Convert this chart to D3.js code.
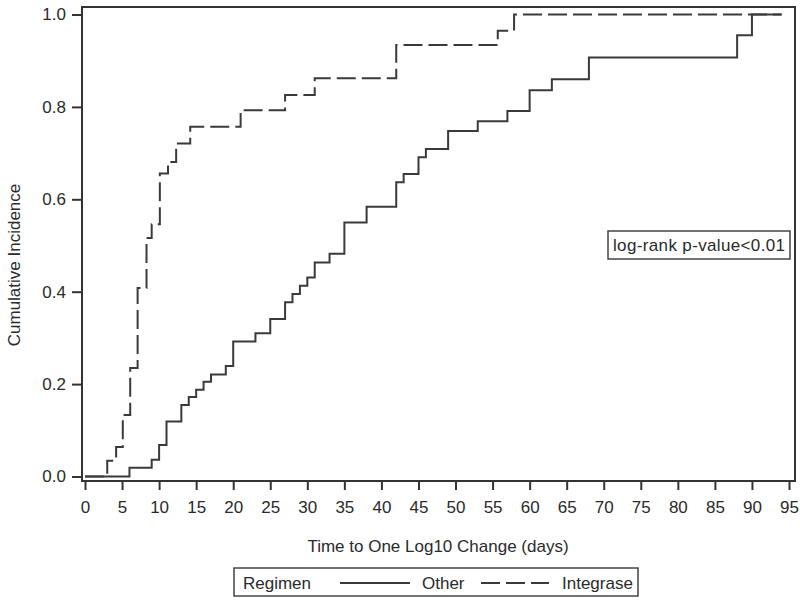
<!DOCTYPE html>
<html>
<head>
<meta charset="utf-8">
<script src="https://cdn.jsdelivr.net/npm/d3@7"></script>
<style>
  body { margin: 0; background: #fff; }
  svg text { font-family: "Liberation Sans", Arial, sans-serif; fill: #2a2a2a; }
</style>
</head>
<body>
<div id="chart"></div>
<script>
// step times (days) and cumulative incidence
var otherDays = [0, 6, 9, 10, 11, 13, 14, 15, 16, 17, 19, 20, 23, 25, 27, 28, 29, 30, 31, 33, 35, 38, 42, 43, 45, 46, 49, 53, 57, 60, 63, 68, 88, 90];
var otherInc  = [0, 0.019, 0.036, 0.068, 0.119, 0.155, 0.172, 0.188, 0.205, 0.221, 0.239, 0.292, 0.31, 0.341, 0.377, 0.395, 0.413, 0.431, 0.463, 0.482, 0.55, 0.584, 0.637, 0.655, 0.691, 0.709, 0.748, 0.769, 0.791, 0.836, 0.86, 0.907, 0.955, 1.0];
var otherEnd = 94;

var integDays = [0, 3, 4.2, 5.1, 6.1, 7.1, 8.3, 9, 10.1, 11.2, 12.3, 14.2, 21, 27, 31, 42, 55.7, 57.9];
var integInc  = [0, 0.034, 0.064, 0.133, 0.235, 0.408, 0.516, 0.546, 0.656, 0.681, 0.721, 0.757, 0.793, 0.826, 0.862, 0.934, 0.965, 1.0];
var integEnd = 94;

var xTicks = [0, 5, 10, 15, 20, 25, 30, 35, 40, 45, 50, 55, 60, 65, 70, 75, 80, 85, 90, 95];
var yTicks = [0, 0.2, 0.4, 0.6, 0.8, 1.0];

var width = 800, height = 600;
var frame = { left: 82, right: 795, top: 7, bottom: 481 };
var lineColor = "#3a3a3a";

var svg = d3.select("#chart").append("svg")
  .attr("width", width)
  .attr("height", height);

var x = d3.scaleLinear().domain([0, 95]).range([85, 789]);
var y = d3.scaleLinear().domain([0, 1]).range([476.5, 14.5]);

// plot frame
svg.append("rect")
  .attr("x", frame.left).attr("y", frame.top)
  .attr("width", frame.right - frame.left)
  .attr("height", frame.bottom - frame.top)
  .attr("fill", "none")
  .attr("stroke", "#333")
  .attr("stroke-width", 2);

// x axis
var xAxis = svg.append("g")
  .attr("transform", "translate(0," + frame.bottom + ")")
  .call(d3.axisBottom(x).tickValues(xTicks).tickSize(9).tickPadding(11).tickFormat(d3.format("d")));
xAxis.select(".domain").remove();
xAxis.selectAll("line").attr("stroke", "#333").attr("stroke-width", 2);
xAxis.selectAll("text").style("font-size", "17px").attr("fill", "#2a2a2a");

// y axis
var yAxis = svg.append("g")
  .attr("transform", "translate(" + frame.left + ",0)")
  .call(d3.axisLeft(y).tickValues(yTicks).tickSize(10).tickPadding(6).tickFormat(d3.format(".1f")));
yAxis.select(".domain").remove();
yAxis.selectAll("line").attr("stroke", "#333").attr("stroke-width", 2);
yAxis.selectAll("text").style("font-size", "17px").attr("fill", "#2a2a2a");

// axis titles
svg.append("text")
  .attr("x", 438).attr("y", 552)
  .attr("text-anchor", "middle")
  .style("font-size", "17px")
  .text("Time to One Log10 Change (days)");

svg.append("text")
  .attr("transform", "translate(20,265) rotate(-90)")
  .attr("text-anchor", "middle")
  .style("font-size", "17px")
  .text("Cumulative Incidence");

// step curves
function stepPoints(days, inc, end) {
  var pts = days.map(function (d, i) { return [d, inc[i]]; });
  pts.push([end, inc[inc.length - 1]]);
  return pts;
}

var step = d3.line()
  .x(function (d) { return x(d[0]); })
  .y(function (d) { return y(d[1]); })
  .curve(d3.curveStepAfter);

svg.append("path")
  .datum(stepPoints(otherDays, otherInc, otherEnd))
  .attr("d", step)
  .attr("fill", "none")
  .attr("stroke", lineColor)
  .attr("stroke-width", 2);

svg.append("path")
  .datum(stepPoints(integDays, integInc, integEnd))
  .attr("d", step)
  .attr("fill", "none")
  .attr("stroke", lineColor)
  .attr("stroke-width", 2)
  .attr("stroke-dasharray", "19,6");

// log-rank annotation
svg.append("rect")
  .attr("x", 608).attr("y", 231)
  .attr("width", 182).attr("height", 28)
  .attr("fill", "#fff")
  .attr("stroke", "#444")
  .attr("stroke-width", 1.5);
svg.append("text")
  .attr("x", 613).attr("y", 251)
  .attr("textLength", 172)
  .style("font-size", "17px")
  .text("log-rank p-value<0.01");

// legend
var legend = svg.append("g");
legend.append("rect")
  .attr("x", 234).attr("y", 568)
  .attr("width", 404).attr("height", 28)
  .attr("fill", "#fff")
  .attr("stroke", "#444")
  .attr("stroke-width", 1.5);
legend.append("text").attr("x", 243).attr("y", 589).style("font-size", "17px").text("Regimen");
legend.append("line")
  .attr("x1", 340).attr("x2", 410).attr("y1", 583).attr("y2", 583)
  .attr("stroke", lineColor).attr("stroke-width", 2);
legend.append("text").attr("x", 422).attr("y", 589).style("font-size", "17px").text("Other");
legend.append("line")
  .attr("x1", 481).attr("x2", 549).attr("y1", 583).attr("y2", 583)
  .attr("stroke", lineColor).attr("stroke-width", 2)
  .attr("stroke-dasharray", "19,6");
legend.append("text").attr("x", 562).attr("y", 589).style("font-size", "17px").text("Integrase");
</script>
</body>
</html>
